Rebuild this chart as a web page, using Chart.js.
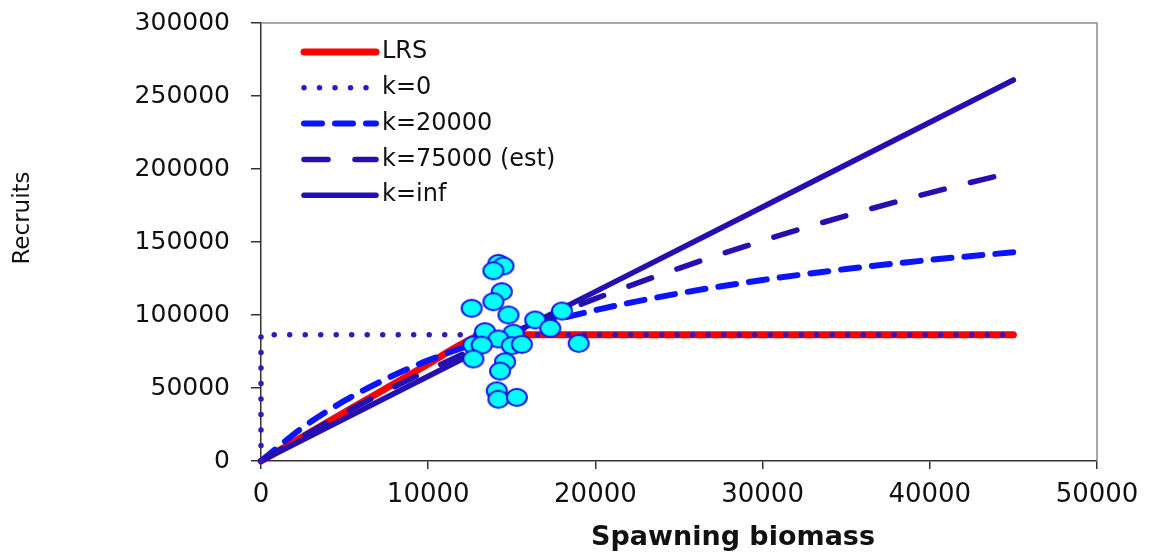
<!DOCTYPE html>
<html><head><meta charset="utf-8">
<script src="https://cdn.jsdelivr.net/npm/chart.js@4.4.1/dist/chart.umd.min.js"></script>
<style>html,body{margin:0;padding:0;background:#fff;} #wrap{width:1155px;height:554px;}</style>
</head><body><div id="wrap"><canvas id="c" width="1155" height="554"></canvas></div>
<script>
// ---- tick labels ----
const xTickValues = [0, 10000, 20000, 30000, 40000, 50000];
const yTickValues = [0, 50000, 100000, 150000, 200000, 250000, 300000];
const xTitle = 'Spawning biomass';
const yTitle = 'Recruits';

// ---- series ----
const lrsX = [0, 5000, 10000, 12000, 13000, 14000, 45000];
const lrsY = [0, 33300, 66500, 80000, 85500, 86500, 86500];

const k0X = [0, 0, 45000];
const k0Y = [0, 86500, 86500];

const k20000X = [0, 2500, 5000, 7500, 10000, 15000, 20000, 25000, 30000, 35000, 40000, 45000];
const k20000Y = [0, 23000, 41300, 56300, 68900, 88500, 103300, 114800, 124000, 131500, 137700, 143000];

const k75000X = [0, 5000, 10000, 15000, 20000, 25000, 30000, 35000, 40000, 45000];
const k75000Y = [0, 33000, 62100, 88000, 111200, 132000, 150900, 168000, 183700, 198000];

const kInfX = [0, 10000, 20000, 30000, 45000];
const kInfY = [0, 58000, 116000, 174000, 261000];

const obsSpawning = [14200, 14500, 13900, 14400, 13900, 12600, 14800, 18000, 16400, 17300, 13400, 15100,
                     14200, 12700, 13200, 15000, 15600, 19000, 12700, 14600, 14300, 14100, 14200, 15300];
const obsRecruits = [135400, 133600, 130300, 116000, 109100, 104600, 100000, 102700, 96600, 90900, 88600, 87500,
                     83600, 79400, 79400, 79000, 79900, 80600, 69900, 68000, 61600, 48100, 42300, 43600];

const seriesLabels = ['LRS', 'k=0', 'k=20000', 'k=75000 (est)', 'k=inf'];

function pts(xs, ys) { return xs.map((x, i) => ({x: x, y: ys[i]})); }

// ellipse marker for the observations
function makeMarker() {
  const c = document.createElement('canvas');
  c.width = 24; c.height = 21;
  const g = c.getContext('2d');
  g.beginPath();
  g.ellipse(12, 10.5, 10, 8.5, 0, 0, Math.PI * 2);
  g.fillStyle = '#00ffff';
  g.fill();
  g.lineWidth = 2;
  g.strokeStyle = '#1414e6';
  g.stroke();
  return c;
}

const DARK = '#2410b0';

const framePlugin = {
  id: 'frame',
  beforeDatasetsDraw(chart) {
    const {ctx, chartArea: a} = chart;
    ctx.save();
    ctx.strokeStyle = '#8c8c8c';
    ctx.lineWidth = 1.5;
    ctx.beginPath();
    ctx.moveTo(a.left, a.top);
    ctx.lineTo(a.right, a.top);
    ctx.lineTo(a.right, a.bottom);
    ctx.stroke();
    ctx.restore();
  }
};

// shifts the axis titles (drawn by Chart.js itself) to where the reference puts them
const titleShiftPlugin = {
  id: 'titleShift',
  afterLayout(chart, args, opts) {
    Object.values(chart.scales).forEach(s => {
      if (s._titleShiftWrapped) return;
      const orig = s.drawTitle.bind(s);
      s.drawTitle = function () {
        const sh = (opts && opts[s.id]) || {dx: 0, dy: 0};
        s.ctx.save();
        s.ctx.translate(sh.dx || 0, sh.dy || 0);
        orig();
        s.ctx.restore();
      };
      s._titleShiftWrapped = true;
    });
  }
};

const legendPlugin = {
  id: 'insideLegend',
  afterDraw(chart) {
    const {ctx, chartArea: a} = chart;
    const x0 = a.left + 43, x1 = a.left + 115, tx = a.left + 121;
    let i = 0;
    chart.data.datasets.forEach(ds => {
      if (!ds.inLegend) return;
      const y = a.top + 29 + i * 35.8;
      i++;
      ctx.save();
      ctx.strokeStyle = ds.borderColor;
      ctx.lineWidth = ds.borderWidth;
      ctx.lineCap = ds.borderCapStyle || 'butt';
      ctx.setLineDash(ds.borderDash || []);
      ctx.beginPath();
      ctx.moveTo(x0, y);
      ctx.lineTo(x1, y);
      ctx.stroke();
      ctx.setLineDash([]);
      ctx.fillStyle = '#111';
      ctx.font = '24px "DejaVu Sans"';
      ctx.textBaseline = 'middle';
      ctx.textAlign = 'left';
      ctx.fillText(ds.label, tx, y);
      ctx.restore();
    });
  }
};

Chart.defaults.font.family = '"DejaVu Sans", sans-serif';
Chart.defaults.color = '#111';

new Chart(document.getElementById('c'), {
  type: 'scatter',
  data: {
    datasets: [
      { label: seriesLabels[0], inLegend: true, data: pts(lrsX, lrsY), showLine: true, pointRadius: 0,
        borderColor: '#ff0000', borderWidth: 7, borderCapStyle: 'round', borderJoinStyle: 'round',
        cubicInterpolationMode: 'monotone', order: 5, clip: false },
      { label: seriesLabels[1], inLegend: true, data: pts(k0X, k0Y), showLine: true, pointRadius: 0,
        borderColor: '#2e1cb8', borderWidth: 5.5, borderCapStyle: 'round', borderDash: [0, 15.5],
        tension: 0, order: 1, clip: false },
      { label: seriesLabels[2], inLegend: true, data: pts(k20000X, k20000Y), showLine: true, pointRadius: 0,
        borderColor: '#0a14ff', borderWidth: 6, borderCapStyle: 'round', borderDash: [18, 13],
        cubicInterpolationMode: 'monotone', order: 4, clip: false },
      { label: seriesLabels[3], inLegend: true, data: pts(k75000X, k75000Y), showLine: true, pointRadius: 0,
        borderColor: DARK, borderWidth: 5.5, borderCapStyle: 'round', borderDash: [24, 27],
        cubicInterpolationMode: 'monotone', order: 3, clip: false },
      { label: seriesLabels[4], inLegend: true, data: pts(kInfX, kInfY), showLine: true, pointRadius: 0,
        borderColor: DARK, borderWidth: 5.5, borderCapStyle: 'round',
        tension: 0, order: 2, clip: false },
      { label: 'Observed', inLegend: false, data: pts(obsSpawning, obsRecruits), showLine: false,
        pointStyle: makeMarker(), pointRadius: 10, backgroundColor: '#00ffff', borderColor: '#1414e6',
        order: 0, clip: false }
    ]
  },
  options: {
    responsive: false,
    devicePixelRatio: 1,
    animation: false,
    layout: { padding: { left: 0, right: 58, top: 23, bottom: 0 } },
    plugins: {
      legend: { display: false },
      tooltip: { enabled: false },
      titleShift: { x: { dx: 54, dy: 0 }, y: { dx: 0, dy: -24 } }
    },
    scales: {
      x: {
        type: 'linear', min: 0, max: 50000,
        afterBuildTicks: s => { s.ticks = xTickValues.map(v => ({value: v})); },
        afterFit: s => { s.height = 93; },
        ticks: { font: { size: 26 }, color: '#111', padding: 11, maxRotation: 0, callback: v => String(v) },
        grid: { display: true, drawOnChartArea: false, drawTicks: true, tickLength: 8, color: '#333', lineWidth: 1.5 },
        border: { display: true, color: '#333', width: 1.5 },
        title: { display: true, text: xTitle, font: { size: 27, weight: 'bold' }, color: '#111', padding: { top: 0, bottom: 0 } }
      },
      y: {
        type: 'linear', min: 0, max: 300000,
        afterBuildTicks: s => { s.ticks = yTickValues.map(v => ({value: v})); },
        afterFit: s => { s.width = 261; s.paddingTop = 0; s.paddingBottom = 0; },
        ticks: { font: { size: 25 }, color: '#111', padding: 21, callback: v => String(v) },
        grid: { display: true, drawOnChartArea: false, drawTicks: true, tickLength: 10, color: '#333', lineWidth: 1.5 },
        border: { display: true, color: '#333', width: 1.5 },
        title: { display: true, text: yTitle, font: { size: 23 }, color: '#111', padding: { top: 9, bottom: 0 } }
      }
    }
  },
  plugins: [framePlugin, titleShiftPlugin, legendPlugin]
});
</script>
</body></html>
